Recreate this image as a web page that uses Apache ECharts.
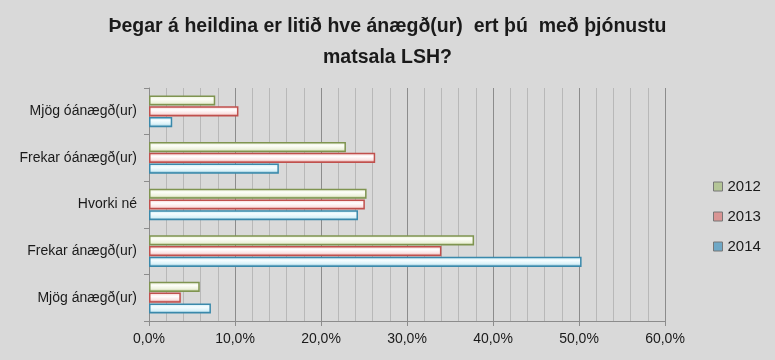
<!DOCTYPE html>
<html><head><meta charset="utf-8">
<script src="https://cdn.jsdelivr.net/npm/echarts@6/dist/echarts.min.js"></script>
<style>html,body{margin:0;padding:0;background:#d9d9d9}#c{width:775px;height:360px}</style>
</head><body><div id="c"></div>
<script>
var categories = ['Mjög óánægð(ur)', 'Frekar óánægð(ur)', 'Hvorki né', 'Frekar ánægð(ur)', 'Mjög ánægð(ur)'];
var seriesNames = ['2012', '2013', '2014'];
var values2012 = [7.7, 22.9, 25.3, 37.8, 5.9];
var values2013 = [10.4, 26.3, 25.1, 34.0, 3.7];
var values2014 = [2.7, 15.1, 24.3, 50.3, 7.2];
var xTicks = [0, 10, 20, 30, 40, 50, 60];

var palettes = [
  {top:'#e6edd3', mid:'#fdfef8', low:'#edf2dc', bot:'#8ea65a', border:'#7f9450', icon:'#b4c597'},
  {top:'#f4c6c5', mid:'#ffffff', low:'#fbe2e2', bot:'#c0504d', border:'#c0504d', icon:'#d99594'},
  {top:'#bfe8f4', mid:'#f6fdff', low:'#d8f1f8', bot:'#3f8db0', border:'#3a89ab', icon:'#6fa8c6'}
];
function grad(p){
  return new echarts.graphic.LinearGradient(0,0,0,1,[
    {offset:0,color:p.top},{offset:0.35,color:p.mid},{offset:0.72,color:p.low},{offset:1,color:p.bot}
  ]);
}
var allVals = [values2012, values2013, values2014];
var font = 'Liberation Sans, Arial, sans-serif';
var chart = echarts.init(document.getElementById('c'));
chart.setOption({
  backgroundColor:'#d9d9d9',
  animation:false,
  title:{
    text:'Þegar á heildina er litið hve ánægð(ur)  ert þú  með þjónustu\nmatsala LSH?',
    left:'center', top:6,
    textStyle:{fontFamily:font, fontWeight:'bold', fontSize:19.5, color:'#1a1a1a', lineHeight:31}
  },
  legend:{
    orient:'vertical', left:708, top:174, itemGap:15,
    itemWidth:9, itemHeight:9,
    textStyle:{fontFamily:font, fontSize:15, color:'#1a1a1a'},
    data:seriesNames.map(function(n,i){return {name:n, icon:'rect', itemStyle:{color:palettes[i].icon, borderColor:'#777', borderWidth:1}};})
  },
  grid:{left:149, right:110, top:88, bottom:39},
  xAxis:{
    type:'value', min:xTicks[0], max:xTicks[xTicks.length-1], interval:10,
    axisLine:{show:true, lineStyle:{color:'#8c8c8c'}},
    axisTick:{show:true, length:5, lineStyle:{color:'#8c8c8c'}},
    minorTick:{show:false, splitNumber:5},
    minorSplitLine:{show:true, lineStyle:{color:'#b8b8b8', width:1}},
    splitLine:{show:true, lineStyle:{color:'#8c8c8c', width:1}},
    axisLabel:{fontFamily:font, fontSize:14, color:'#1a1a1a', margin:11,
      formatter:function(v){return v.toFixed(1).replace('.',',')+'%';}}
  },
  yAxis:{
    type:'category', data:categories, inverse:true,
    axisLine:{show:true, lineStyle:{color:'#8c8c8c'}},
    axisTick:{show:true, length:5, lineStyle:{color:'#8c8c8c'}},
    axisLabel:{fontFamily:font, fontSize:14, color:'#1a1a1a', margin:12}
  },
  series:seriesNames.map(function(n,i){
    return {
      name:n, type:'bar', data:allVals[i],
      barGap:'6%', barCategoryGap:'32%',
      itemStyle:{color:grad(palettes[i]), borderColor:palettes[i].border, borderWidth:1.5}
    };
  })
});
</script></body></html>
